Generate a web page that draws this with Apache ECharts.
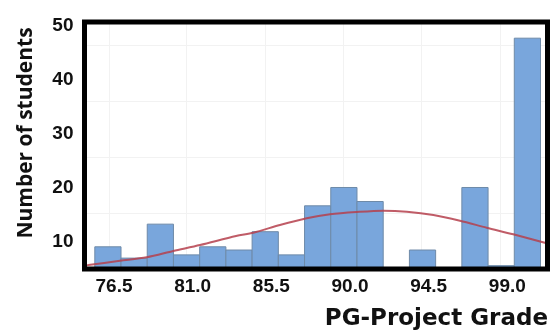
<!DOCTYPE html>
<html>
<head>
<meta charset="utf-8">
<script src="https://cdn.jsdelivr.net/npm/echarts@6/dist/echarts.min.js"></script>
<style>html,body{margin:0;padding:0;background:#fff;}#c{width:550px;height:336px;}</style>
</head>
<body>
<div id="c"></div>
<script>
// Histogram bins (start of each 1.5-wide bin) and counts
const binStarts = [75.4, 76.9, 78.4, 79.9, 81.4, 82.9, 84.4, 85.9, 87.4, 88.9, 90.4, 91.9, 93.4, 94.9, 96.4, 97.9, 99.4];
const binWidth = 1.5;
const counts = [9, 6.9, 13.2, 7.5, 9, 8.4, 11.8, 7.5, 16.6, 20, 17.4, 0, 8.4, 0, 20, 5.5, 47.7];
// Fitted curve
const curveX = [74.8, 75.03, 76.84, 78.37, 79.89, 81.42, 83.48, 84.47, 85.99, 87.52, 88.86, 90.38, 91.91, 93.25, 94.77, 96.29, 97.82, 99.34, 101.25, 101.3];
const curveY = [5.55, 5.62, 6.4, 7.05, 8.22, 9.33, 11.0, 11.61, 13.04, 14.29, 15.03, 15.45, 15.7, 15.51, 14.9, 13.84, 12.54, 11.32, 9.65, 9.6];
// Tick labels
const xTicks = [76.5, 81.0, 85.5, 90.0, 94.5, 99.0];
const yTicks = [10, 20, 30, 40, 50];
// Faint background grid lines of the original
const gridXLines = [76.25, 80.64, 85.14, 89.6, 94.1, 98.58];
const gridYLines = [15.27, 25.66, 36.05, 46.4];
const xTitle = 'PG-Project Grade';
const yTitle = 'Number of students';

const chart = echarts.init(document.getElementById('c'), null, {renderer: 'canvas'});
const barData = binStarts.map((s, i) => [s, s + binWidth, counts[i]]);
const curveData = curveX.map((x, i) => [x, curveY[i]]);
const tickFont = {fontFamily: 'Liberation Sans', fontWeight: 'bold', fontSize: 19, color: '#111'};

chart.setOption({
  animation: false,
  backgroundColor: '#fff',
  grid: {
    show: true, z: 10, left: 84.5, right: 2.5, top: 22, bottom: 67,
    borderColor: '#000', borderWidth: 5, backgroundColor: 'transparent'
  },
  xAxis: {
    type: 'value', min: 74.81, max: 101.3,
    axisLine: {show: false}, axisTick: {show: false}, splitLine: {show: false},
    axisLabel: Object.assign({customValues: xTicks, margin: 8, formatter: v => v.toFixed(1)}, tickFont)
  },
  yAxis: {
    type: 'value', min: 4.88, max: 50.7,
    axisLine: {show: false}, axisTick: {show: false}, splitLine: {show: false},
    axisLabel: Object.assign({customValues: yTicks, margin: 11}, tickFont)
  },
  series: [
    {
      type: 'custom',
      clip: true,
      z: 2,
      data: barData,
      renderItem: function (params, api) {
        const v = api.value(2);
        if (!v) return null;
        const p0 = api.coord([api.value(0), v]);
        const p1 = api.coord([api.value(1), 0]);
        const rect = echarts.graphic.clipRectByRect({
          x: p0[0], y: p0[1], width: p1[0] - p0[0], height: p1[1] - p0[1]
        }, {
          x: params.coordSys.x, y: params.coordSys.y,
          width: params.coordSys.width, height: params.coordSys.height
        });
        return rect && {
          type: 'rect', shape: rect,
          style: {fill: '#79a6dc', stroke: '#6e8aa8', lineWidth: 1}
        };
      }
    },
    {
      type: 'line',
      z: 3,
      data: curveData,
      smooth: 0.3,
      showSymbol: false,
      clip: true,
      lineStyle: {color: '#b5404c', width: 2, opacity: 0.85},
      markLine: {
        z: 1, silent: true, symbol: ['none', 'none'], label: {show: false},
        lineStyle: {color: '#f2f2f2', width: 1, type: 'solid'},
        data: gridXLines.map(v => ({xAxis: v})).concat(gridYLines.map(v => ({yAxis: v})))
      }
    }
  ],
  graphic: [
    {
      type: 'text', x: 26, y: 133, rotation: Math.PI / 2,
      style: {text: yTitle, fontFamily: 'Open Sans', fontWeight: 'bold', fontSize: 21,
        fill: '#111', align: 'center', verticalAlign: 'middle'}
    },
    {
      type: 'text', x: 548, y: 319,
      style: {text: xTitle, fontFamily: 'DejaVu Sans', fontWeight: 'bold', fontSize: 23,
        fill: '#111', align: 'right', verticalAlign: 'middle'}
    }
  ]
});
</script>
</body>
</html>
